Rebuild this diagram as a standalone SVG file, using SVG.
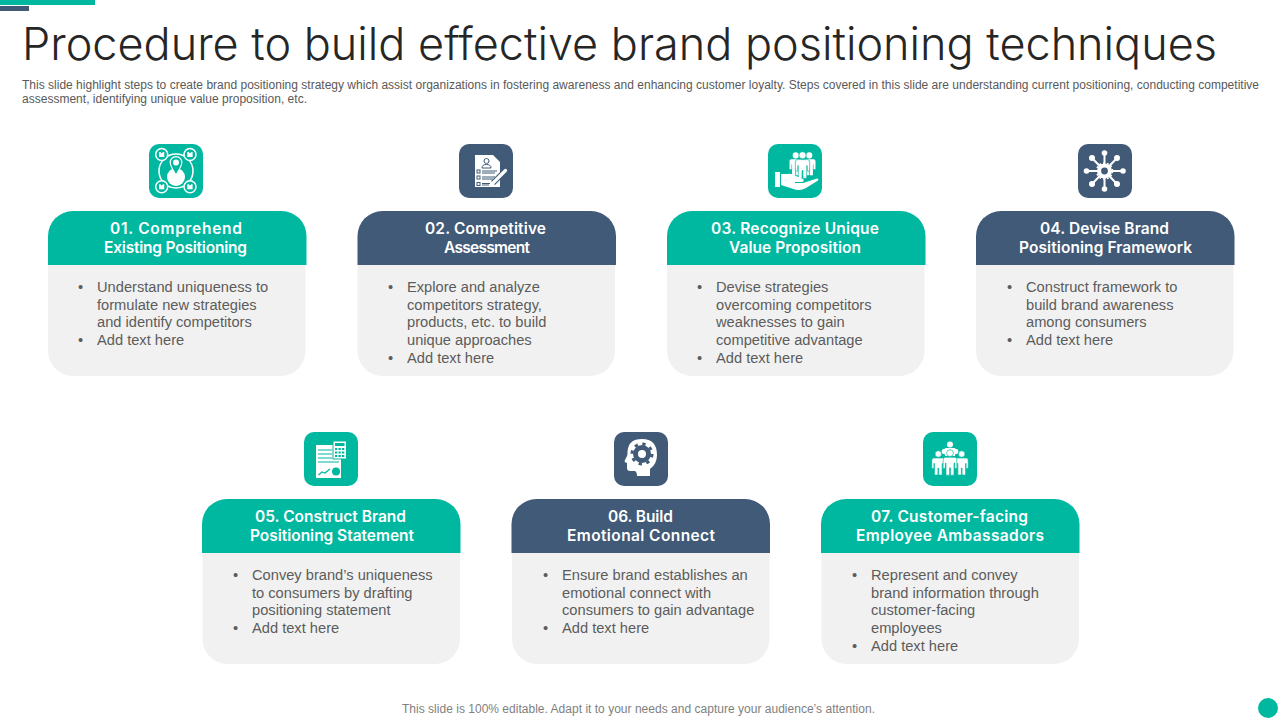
<svg xmlns="http://www.w3.org/2000/svg" width="1280" height="720" viewBox="0 0 1280 720">
<style>
text{font-family:"Liberation Sans",Arial,sans-serif}
.title{font-family:Inter,"Liberation Sans",sans-serif;font-weight:300;font-size:45px;fill:#262626;font-variant-ligatures:none}
.sub{font-size:12px;fill:#595959}
.foot{font-size:12px;fill:#7f7f7f}
.h{font-family:Inter,"Liberation Sans",sans-serif;font-size:15.500px;font-weight:600;fill:#fff;text-anchor:middle;font-variant-ligatures:none}
.b{font-size:14.670px;fill:#5c5c5c}
.t{fill:#00b8a0}.s{fill:#415a77}.g{fill:#f1f1f1}
.w{fill:#fff}
</style>
<defs>
<path id="head" d="M0 54V25A25 25 0 0 1 25 0H233.500A25 25 0 0 1 258.500 25V54Z"/>
<path id="body" d="M0 0H257.500V86A25 25 0 0 1 232.500 111H25A25 25 0 0 1 0 86Z"/>
<rect id="ic" width="54" height="54" rx="10"/>
<g id="person"><circle cx="0" cy="-8" r="3.200"/><path d="M-4.500 -4H4.500Q6.500 -4 6.500 -2V6.500H4.400V1.500H3.800V13H.4V6H-.4V13H-3.800V1.500H-4.400V6.500H-6.500V-2Q-6.500 -4 -4.500 -4Z"/></g>
</defs>
<rect class="t" x="0" y="0" width="95" height="5"/>
<rect class="s" x="0" y="6" width="29" height="5"/>
<text class="title" x="22" y="60" textLength="1195" lengthAdjust="spacing">Procedure to build effective brand positioning techniques</text>
<text class="sub" x="22" y="89" textLength="1237" lengthAdjust="spacing">This slide highlight steps to create brand positioning strategy which assist organizations in fostering awareness and enhancing customer loyalty. Steps covered in this slide are understanding current positioning, conducting competitive</text>
<text class="sub" x="22" y="103" textLength="285" lengthAdjust="spacing">assessment, identifying unique value proposition, etc.</text>
<g id="connectors"/>

<g id="node1">
<g transform="translate(149 144)"><use href="#ic" class="t"/>
<circle cx="27" cy="27" r="17" fill="none" stroke="#fff" stroke-width="1.500"/>
<g stroke="#fff" stroke-width="1.500" fill="#00b8a0"><circle cx="12.700" cy="10.500" r="6"/><circle cx="41" cy="10.500" r="6"/><circle cx="12.700" cy="42.700" r="6"/><circle cx="41" cy="42.700" r="6"/></g>
<g class="w"><path d="M10 8h1.500l1.200 1.500 1.200-1.500h1.400v5h-5.300z"/><path d="M38.300 8h1.500l1.200 1.500 1.200-1.500h1.400v5h-5.300z"/><path d="M10 40.200h1.500l1.200 1.500 1.200-1.500h1.400v5h-5.300z"/><path d="M38.300 40.200h1.500l1.200 1.500 1.200-1.500h1.400v5h-5.300z"/>
<circle cx="27" cy="33" r="9"/></g>
<path d="M21.300 19.500A5.800 5.800 0 1 1 32.700 19.500Q32 23 27 31Q22 23 21.300 19.500Z" fill="#00b8a0" stroke="#fff" stroke-width="1.200"/>
<circle cx="27" cy="18.500" r="3" class="w"/>
</g>
<use href="#head" class="t" x="48" y="211"/><use href="#body" class="g" x="48" y="265"/>
<text class="h" x="176" y="233.500" textLength="132">01. Comprehend</text><text class="h" x="175.500" y="252.500" textLength="143">Existing Positioning</text>
<text class="b" x="78" y="292">•</text><text class="b" x="97" y="292">Understand uniqueness to</text>
<text class="b" x="97" y="310">formulate new strategies</text>
<text class="b" x="97" y="327">and identify  competitors</text>
<text class="b" x="78" y="345">•</text><text class="b" x="97" y="345">Add text here</text>
</g>

<g id="node2">
<g transform="translate(459 144)"><use href="#ic" class="s"/>
<path class="w" d="M16 11H34L41 18V43H16Z"/>
<circle cx="27.500" cy="17" r="2.500" fill="none" stroke="#415a77"/><path d="M23 24Q23 20.500 27.500 20.500Q32 20.500 32 24Z" fill="none" stroke="#415a77"/>
<g stroke="#415a77" fill="none"><rect x="18" y="26" width="3" height="3"/><rect x="18" y="32" width="3" height="3"/><rect x="18" y="38.500" width="3" height="3"/><path d="M23 27H38M23 29H36M23 33H36M23 35H34M23 39.500H31M23 41H30"/></g>
<path d="M34 39L46.500 26.500" stroke="#415a77" stroke-width="5.500"/><path d="M34 39L46.500 26.500" stroke="#fff" stroke-width="3.200" stroke-linecap="round"/>
</g>
<use href="#head" class="s" x="357.500" y="211"/><use href="#body" class="g" x="357.500" y="265"/>
<text class="h" x="485.500" y="233.500" textLength="121">02. Competitive</text><text class="h" x="487" y="252.500" textLength="86">Assessment</text>
<text class="b" x="388" y="292">•</text><text class="b" x="407" y="292">Explore and analyze</text>
<text class="b" x="407" y="310">competitors strategy,</text>
<text class="b" x="407" y="327">products, etc. to build</text>
<text class="b" x="407" y="345">unique approaches</text>
<text class="b" x="388" y="363">•</text><text class="b" x="407" y="363">Add text here</text>
</g>

<g id="node3">
<g transform="translate(768 144)"><use href="#ic" class="t"/>
<g class="w"><use href="#person" transform="translate(27.700 19) scale(.95)"/><use href="#person" transform="translate(41.300 19) scale(.95)"/></g>
<use href="#person" class="w" transform="translate(34.500 20) scale(1.100)" stroke="#00b8a0" stroke-width=".6"/>
<path class="w" d="M7 28H12V43H7Z"/>
<path class="w" d="M13 30H20Q24 29 28 32L35 35Q37 37 34 38H27V39H35L49 34.500Q51 34.500 50 36.500L38 44Q33 47 27 45.500L13 41Z"/>
</g>
<use href="#head" class="t" x="667" y="211"/><use href="#body" class="g" x="667" y="265"/>
<text class="h" x="795" y="233.500" textLength="168">03. Recognize Unique</text><text class="h" x="795" y="252.500" textLength="132">Value Proposition</text>
<text class="b" x="697" y="292">•</text><text class="b" x="716" y="292">Devise strategies</text>
<text class="b" x="716" y="310">overcoming competitors</text>
<text class="b" x="716" y="327">weaknesses to gain</text>
<text class="b" x="716" y="345">competitive advantage</text>
<text class="b" x="697" y="363">•</text><text class="b" x="716" y="363">Add text here</text>
</g>

<g id="node4">
<g transform="translate(1078 144)"><use href="#ic" class="s"/>
<g stroke="#fff" stroke-width="2"><path d="M26.500 27V9M26.500 27V45M26.500 27H8.500M26.500 27H45M26.500 27L14 14M26.500 27L39 14M26.500 27L14 40M26.500 27L39 40"/></g>
<g class="w"><circle cx="26.500" cy="9" r="2.800"/><circle cx="26.500" cy="45" r="2.800"/><circle cx="8.500" cy="27" r="2.800"/><circle cx="45" cy="27" r="2.800"/><circle cx="14" cy="14" r="3"/><circle cx="39" cy="14" r="3"/><circle cx="14" cy="40" r="3"/><circle cx="39" cy="40" r="3"/><circle cx="26.500" cy="27" r="7.500"/></g>
<circle cx="26.500" cy="27" r="8" fill="none" stroke="#fff" stroke-width="1.500" stroke-dasharray="2 2"/>
<circle cx="26.500" cy="27" r="3.400" class="s"/>
</g>
<use href="#head" class="s" x="976" y="211"/><use href="#body" class="g" x="976" y="265"/>
<text class="h" x="1104.500" y="233.500" textLength="129">04. Devise Brand</text><text class="h" x="1105.500" y="252.500" textLength="173">Positioning Framework</text>
<text class="b" x="1007" y="292">•</text><text class="b" x="1026" y="292">Construct framework to</text>
<text class="b" x="1026" y="310">build brand awareness</text>
<text class="b" x="1026" y="327">among consumers</text>
<text class="b" x="1007" y="345">•</text><text class="b" x="1026" y="345">Add text here</text>
</g>

<g id="node5">
<g transform="translate(304 432)"><use href="#ic" class="t"/>
<rect class="w" x="12" y="13" width="25" height="33"/>
<g stroke="#00b8a0" stroke-width="1.200"><path d="M14 18H28M14 22H28M14 26H28M14 30H35"/></g>
<path d="M14.500 43L18 40L21 41L26 37" fill="none" stroke="#00b8a0" stroke-width="1.300"/>
<circle cx="32" cy="39.500" r="4" class="t"/>
<rect class="w" x="29" y="9" width="13.500" height="18" stroke="#00b8a0"/>
<rect class="t" x="31" y="11" width="9.500" height="3"/>
<g class="t"><rect x="31" y="16" width="2.300" height="2"/><rect x="34.500" y="16" width="2.300" height="2"/><rect x="38" y="16" width="2.300" height="2"/><rect x="31" y="19.500" width="2.300" height="2"/><rect x="34.500" y="19.500" width="2.300" height="2"/><rect x="38" y="19.500" width="2.300" height="2"/><rect x="31" y="23" width="2.300" height="2"/><rect x="34.500" y="23" width="2.300" height="2"/><rect x="38" y="23" width="2.300" height="2"/></g>
</g>
<use href="#head" class="t" x="202" y="499"/><use href="#body" class="g" x="202.500" y="553"/>
<text class="h" x="330.500" y="521.500" textLength="151">05. Construct Brand</text><text class="h" x="332" y="540.500" textLength="164">Positioning Statement</text>
<text class="b" x="233" y="580">•</text><text class="b" x="252" y="580">Convey brand’s uniqueness</text>
<text class="b" x="252" y="598">to consumers by drafting</text>
<text class="b" x="252" y="615">positioning statement</text>
<text class="b" x="233" y="633">•</text><text class="b" x="252" y="633">Add text here</text>
</g>

<g id="node6">
<g transform="translate(614 432)"><use href="#ic" class="s"/>
<path class="w" d="M36 44V37Q43 32 43 23Q43 7 28 7Q14 7 13.500 20Q13.500 23 13 24L10.500 29Q10.500 30.500 13 31V36Q13 39.500 17 39L21 39Q23 40 23 44Z"/>
<circle cx="28" cy="22" r="6.500" fill="none" stroke="#415a77" stroke-width="5"/>
<circle cx="28" cy="22" r="10" fill="none" stroke="#415a77" stroke-width="3" stroke-dasharray="3.300 4.550"/>
</g>
<use href="#head" class="s" x="511.500" y="499"/><use href="#body" class="g" x="512" y="553"/>
<text class="h" x="640.500" y="521.500" textLength="65">06. Build</text><text class="h" x="641" y="540.500" textLength="148">Emotional Connect</text>
<text class="b" x="543" y="580">•</text><text class="b" x="562" y="580">Ensure brand establishes an</text>
<text class="b" x="562" y="598">emotional connect with</text>
<text class="b" x="562" y="615">consumers to gain advantage</text>
<text class="b" x="543" y="633">•</text><text class="b" x="562" y="633">Add text here</text>
</g>

<g id="node7">
<g transform="translate(923 432)"><use href="#ic" class="t"/>
<g class="w"><circle cx="27" cy="12.500" r="3"/><path d="M22 16H32V24H22Z"/><circle cx="21.500" cy="19.500" r="2.800"/><circle cx="32.500" cy="19.500" r="2.800"/></g>
<g class="w" stroke="#00b8a0" stroke-width=".6"><use href="#person" transform="translate(15.300 30)"/><use href="#person" transform="translate(38.700 30)"/><use href="#person" transform="translate(27 29.500) scale(1.050)"/></g>
</g>
<use href="#head" class="t" x="821" y="499"/><use href="#body" class="g" x="821.500" y="553"/>
<text class="h" x="949.500" y="521.500" textLength="157">07. Customer-facing</text><text class="h" x="950" y="540.500" textLength="188">Employee Ambassadors</text>
<text class="b" x="852" y="580">•</text><text class="b" x="871" y="580">Represent and convey</text>
<text class="b" x="871" y="598">brand information through</text>
<text class="b" x="871" y="615">customer-facing</text>
<text class="b" x="871" y="633">employees</text>
<text class="b" x="852" y="651">•</text><text class="b" x="871" y="651">Add text here</text>
</g>

<text class="foot" x="402" y="713" textLength="473" lengthAdjust="spacing">This slide is 100% editable. Adapt it to your needs and capture your audience’s attention.</text>
<circle class="t" cx="1268" cy="708" r="10"/>
</svg>
